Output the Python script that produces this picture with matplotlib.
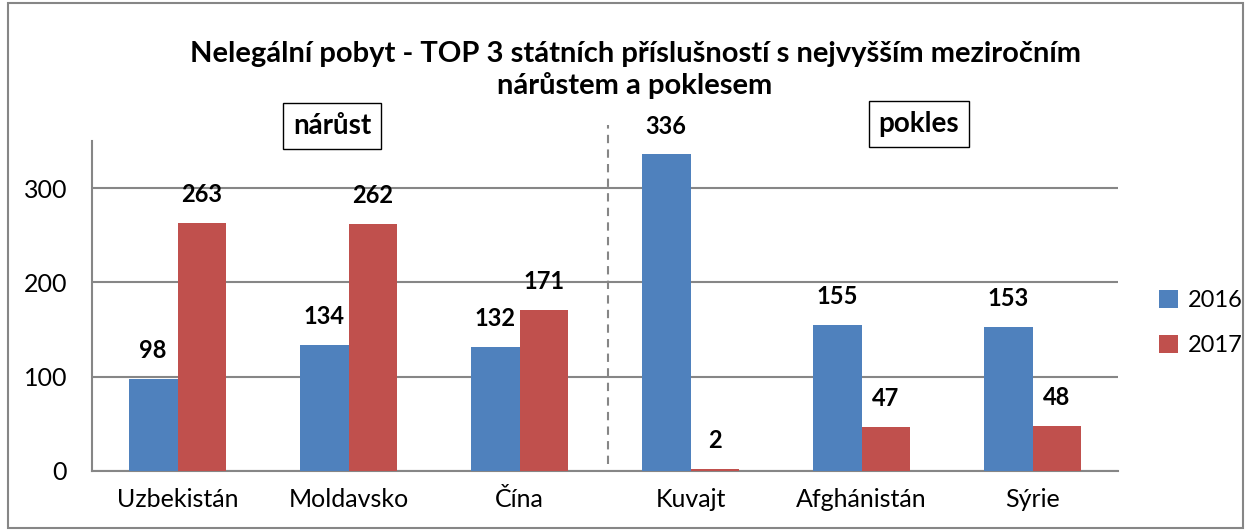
import matplotlib.pyplot as plt
import matplotlib.patches as mpatches
import numpy as np

# data
zeme = ['Uzbekistán', 'Moldavsko', 'Čína', 'Kuvajt', 'Afghánistán', 'Sýrie']
rok_2016 = [98, 134, 132, 336, 155, 153]
rok_2017 = [263, 262, 171, 2, 47, 48]
roky = ['2016', '2017']

plt.rcParams['font.family'] = ['Lato', 'DejaVu Sans']

modra = '#4F81BD'
cervena = '#C0504D'
seda = '#868686'

fig = plt.figure(figsize=(12.5, 5.31), dpi=100)
ax = fig.add_axes([92/1250, 1-471/531, (1118-92)/1250, (471-141)/531])

x = np.arange(len(zeme))
w = 0.286
b1 = ax.bar(x - w/2, rok_2016, w, color=modra, label=roky[0], zorder=3)
b2 = ax.bar(x + w/2, rok_2017, w, color=cervena, label=roky[1], zorder=3)

for bars in (b1, b2):
    for r in bars:
        ax.annotate(str(int(r.get_height())), (r.get_x() + r.get_width()/2, r.get_height()),
                    xytext=(0, 12), textcoords='offset points', ha='center', va='bottom',
                    fontsize=17, fontweight='bold')

ax.set_xlim(-0.5, len(zeme) - 0.5)
ax.set_ylim(0, 350)
ax.set_yticks([0, 100, 200, 300])
ax.set_xticks(x)
ax.set_xticklabels(zeme)
ax.tick_params(length=0, labelsize=18, pad=12)
ax.tick_params(axis='y', pad=18)
ax.grid(axis='y', color=seda, linewidth=1.5, zorder=0)
for s in ['top', 'right']:
    ax.spines[s].set_visible(False)
for s in ['left', 'bottom']:
    ax.spines[s].set_color(seda)
    ax.spines[s].set_linewidth(1.5)

# svisla delici cara
ax.plot([2.52, 2.52], [0.02, 1.05], transform=ax.get_xaxis_transform(), color=seda,
        linestyle=(0, (4, 3)), linewidth=1.5, clip_on=False)

fig.text(0.508, 1-70/531, 'Nelegální pobyt - TOP 3 státních příslušností s nejvyšším meziročním\nnárůstem a poklesem',
         ha='center', va='center', fontsize=21, fontweight='bold', linespacing=1.2)

box = dict(boxstyle='square,pad=0.35', facecolor='white', edgecolor='black', linewidth=1)
fig.text(332/1250, 1-126/531, 'nárůst', ha='center', va='center', fontsize=20, fontweight='bold', bbox=box)
fig.text(919/1250, 1-124/531, 'pokles', ha='center', va='center', fontsize=20, fontweight='bold', bbox=box)

fig.legend(handles=[b1, b2], labels=roky, loc='center left', bbox_to_anchor=(1138/1250, 1-323/531),
           frameon=False, fontsize=17, handlelength=0.8, handleheight=0.8, labelspacing=1.0,
           handletextpad=0.4)

fig.patches.append(mpatches.Rectangle((8/1250, 3/531), 1235/1250, 525/531, transform=fig.transFigure,
                                      fill=False, edgecolor=seda, linewidth=1.5))

fig.savefig('out.png', dpi=100)
